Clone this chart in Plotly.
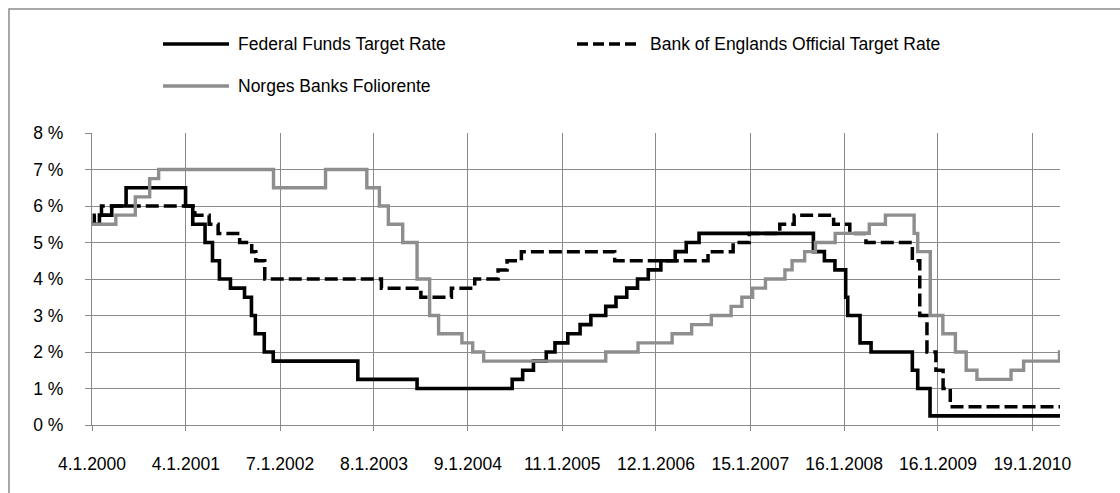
import plotly.graph_objects as go

# Policy rate change dates and levels (percent); last entry carries the level to the end of the window
fed_dates = ["2000-01-04", "2000-02-02", "2000-03-21", "2000-05-16", "2001-01-03", "2001-01-31",
             "2001-03-20", "2001-04-18", "2001-05-15", "2001-06-27", "2001-08-21", "2001-09-17",
             "2001-10-02", "2001-11-06", "2001-12-11", "2002-11-06", "2003-06-25", "2004-06-30",
             "2004-08-10", "2004-09-21", "2004-11-10", "2004-12-14", "2005-02-02", "2005-03-22",
             "2005-05-03", "2005-06-30", "2005-08-09", "2005-09-20", "2005-11-01", "2005-12-13",
             "2006-01-31", "2006-03-28", "2006-05-10", "2006-06-29", "2007-09-18", "2007-10-31",
             "2007-12-11", "2008-01-22", "2008-01-30", "2008-03-18", "2008-04-30", "2008-10-08",
             "2008-10-29", "2008-12-16", "2010-05-07"]
fed_rate = [5.5, 5.75, 6.0, 6.5, 6.0, 5.5, 5.0, 4.5, 4.0, 3.75, 3.5, 3.0, 2.5, 2.0, 1.75, 1.25, 1.0,
            1.25, 1.5, 1.75, 2.0, 2.25, 2.5, 2.75, 3.0, 3.25, 3.5, 3.75, 4.0, 4.25, 4.5, 4.75, 5.0,
            5.25, 4.75, 4.5, 4.25, 3.5, 3.0, 2.25, 2.0, 1.5, 1.0, 0.25, 0.25]

boe_dates = ["2000-01-04", "2000-01-13", "2000-02-10", "2001-02-08", "2001-04-05", "2001-05-10",
             "2001-08-02", "2001-09-18", "2001-10-04", "2001-11-08", "2003-02-06", "2003-07-10",
             "2003-11-06", "2004-02-05", "2004-05-06", "2004-06-10", "2004-08-05", "2005-08-04",
             "2006-08-03", "2006-11-09", "2007-01-11", "2007-05-10", "2007-07-05", "2007-12-06",
             "2008-02-07", "2008-04-10", "2008-10-08", "2008-11-06", "2008-12-04", "2009-01-08",
             "2009-02-05", "2009-03-05", "2010-05-07"]
boe_rate = [5.5, 5.75, 6.0, 5.75, 5.5, 5.25, 5.0, 4.75, 4.5, 4.0, 3.75, 3.5, 3.75, 4.0, 4.25, 4.5,
            4.75, 4.5, 4.75, 5.0, 5.25, 5.5, 5.75, 5.5, 5.25, 5.0, 4.5, 3.0, 2.0, 1.5, 1.0, 0.5, 0.5]

nb_dates = ["2000-01-04", "2000-04-06", "2000-06-21", "2000-08-16", "2000-09-20", "2001-12-12",
            "2002-07-03", "2002-12-11", "2003-01-29", "2003-03-05", "2003-04-30", "2003-06-25",
            "2003-08-13", "2003-09-17", "2003-12-17", "2004-01-28", "2004-03-11", "2005-06-30",
            "2005-11-03", "2006-03-16", "2006-05-31", "2006-08-16", "2006-11-01", "2006-12-13",
            "2007-01-24", "2007-03-15", "2007-05-30", "2007-06-27", "2007-08-15", "2007-09-26",
            "2007-12-12", "2008-04-23", "2008-06-25", "2008-10-15", "2008-10-29", "2008-12-17",
            "2009-02-04", "2009-03-25", "2009-05-06", "2009-06-17", "2009-10-28", "2009-12-16",
            "2010-05-05", "2010-05-07"]
nb_rate = [5.5, 5.75, 6.25, 6.75, 7.0, 6.5, 7.0, 6.5, 6.0, 5.5, 5.0, 4.0, 3.0, 2.5, 2.25, 2.0, 1.75,
           2.0, 2.25, 2.5, 2.75, 3.0, 3.25, 3.5, 3.75, 4.0, 4.25, 4.5, 4.75, 5.0, 5.25, 5.5, 5.75,
           5.25, 4.75, 3.0, 2.5, 2.0, 1.5, 1.25, 1.5, 1.75, 2.0, 2.0]

series_names = ["Federal Funds Target Rate", "Bank of Englands Official Target Rate",
                "Norges Banks Foliorente"]

x_tick_dates = ["2000-01-04", "2001-01-04", "2002-01-07", "2003-01-08", "2004-01-09", "2005-01-11",
                "2006-01-12", "2007-01-15", "2008-01-16", "2009-01-16", "2010-01-19"]
x_tick_text = ["4.1.2000", "4.1.2001", "7.1.2002", "8.1.2003", "9.1.2004", "11.1.2005",
               "12.1.2006", "15.1.2007", "16.1.2008", "16.1.2009", "19.1.2010"]
y_tick_vals = [0, 1, 2, 3, 4, 5, 6, 7, 8]
y_tick_text = ["0 %", "1 %", "2 %", "3 %", "4 %", "5 %", "6 %", "7 %", "8 %"]

x_start, x_end = "2000-01-04", "2010-05-07"

# Canvas and plot-area geometry (pixels)
W, H = 1120, 493
L, R, T, B = 92, 1060, 133, 425
GRID = "#8a8a8a"
GREY_LINE = "#8e8e8e"
FONT = "Liberation Sans, Arial, sans-serif"
DASH = "13px,5px"


def px_x(p):
    return (p - L) / (R - L)


def px_y(p):
    return (B - p) / (B - T)


fig = go.Figure()
fig.add_trace(go.Scatter(x=fed_dates, y=fed_rate, name=series_names[0], mode="lines",
                         line=dict(color="#000000", width=3.6, shape="hv")))
fig.add_trace(go.Scatter(x=boe_dates, y=boe_rate, name=series_names[1], mode="lines",
                         line=dict(color="#000000", width=3.5, shape="hv", dash=DASH)))
fig.add_trace(go.Scatter(x=nb_dates, y=nb_rate, name=series_names[2], mode="lines",
                         line=dict(color=GREY_LINE, width=3.4, shape="hv")))

# Legend drawn as line samples plus labels above the plot area
legend_items = [
    (163, 229, 236, 44, dict(color="#000000", width=3.6), series_names[0]),
    (577, 638, 648, 44, dict(color="#000000", width=3.5, dash="11px,5px"), series_names[1]),
    (163, 229, 236, 86, dict(color=GREY_LINE, width=3.4), series_names[2]),
]
shapes = []
annotations = []
for x0, x1, xt, yy, ln, label in legend_items:
    shapes.append(dict(type="line", xref="paper", yref="paper",
                       x0=px_x(x0), x1=px_x(x1), y0=px_y(yy), y1=px_y(yy), line=ln))
    annotations.append(dict(text=label, xref="paper", yref="paper", x=px_x(xt), y=px_y(yy),
                            xanchor="left", yanchor="middle", showarrow=False,
                            font=dict(family=FONT, size=17.5, color="#000000")))

# Chart frame
shapes.append(dict(type="rect", xref="paper", yref="paper", x0=px_x(9), y0=px_y(9),
                   x1=px_x(1130), y1=px_y(505), line=dict(color="#8c8c8c", width=1.5),
                   fillcolor="rgba(0,0,0,0)", layer="below"))

fig.update_layout(
    width=W, height=H,
    margin=dict(l=L, r=W - R, t=T, b=H - B, pad=0),
    paper_bgcolor="white", plot_bgcolor="white",
    showlegend=False,
    shapes=shapes, annotations=annotations,
    font=dict(family=FONT, size=17.5, color="#000000"),
)
fig.update_xaxes(type="date", range=[x_start, x_end], tickvals=x_tick_dates, ticktext=x_tick_text,
                 showgrid=True, gridcolor=GRID, gridwidth=1.2,
                 ticks="outside", ticklen=5, tickcolor=GRID, tickwidth=1.2,
                 showline=True, linecolor=GRID, linewidth=1.2,
                 ticklabelstandoff=18, zeroline=False)
fig.update_yaxes(range=[0, 8], tickvals=y_tick_vals, ticktext=y_tick_text,
                 showgrid=True, gridcolor=GRID, gridwidth=1.2,
                 ticks="outside", ticklen=6, tickcolor=GRID, tickwidth=1.2,
                 showline=True, linecolor=GRID, linewidth=1.2,
                 ticklabelstandoff=18, zeroline=False)

fig.write_html("out.html")
